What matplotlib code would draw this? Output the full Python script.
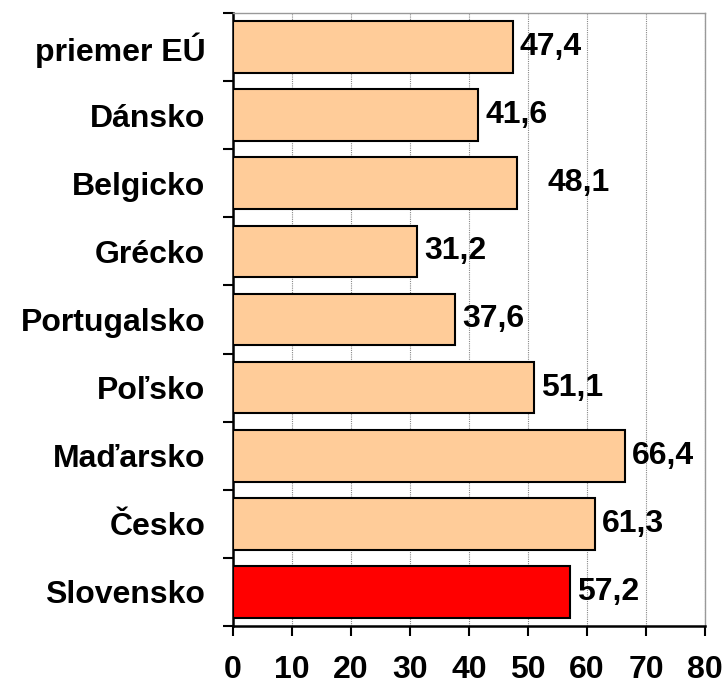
import matplotlib
matplotlib.use("Agg")
import matplotlib.pyplot as plt
import numpy as np

categories = ["priemer EÚ", "Dánsko", "Belgicko", "Grécko", "Portugalsko",
              "Poľsko", "Maďarsko", "Česko", "Slovensko"]
values = [47.4, 41.6, 48.1, 31.2, 37.6, 51.1, 66.4, 61.3, 57.2]
value_labels = ["47,4", "41,6", "48,1", "31,2", "37,6", "51,1", "66,4", "61,3", "57,2"]
x_ticks = [0, 10, 20, 30, 40, 50, 60, 70, 80]

plt.rcParams['font.family'] = ['Liberation Sans', 'DejaVu Sans']

fig = plt.figure(figsize=(7.24, 6.87), dpi=100)
ax = fig.add_axes([233/724, 1 - 626/687, 472/724, 613/687])

colors = ["#FFCC99"] * (len(categories) - 1) + ["#FF0000"]
y = np.arange(len(categories))
ax.barh(y, values, height=0.76, color=colors, edgecolor="black", linewidth=1.5, zorder=3)

ax.set_xlim(0, 80)
ax.set_ylim(len(categories) - 0.5, -0.5)

ax.set_xticks(x_ticks)
ax.set_xticklabels([str(t) for t in x_ticks], fontsize=23, fontweight="bold")
ax.set_yticks(y)
ax.set_yticklabels(categories, fontsize=23, fontweight="bold")
ax.set_yticks(np.arange(-0.5, len(categories), 1.0), minor=True)
ax.tick_params(axis="y", which="major", length=0, pad=20)
ax.tick_params(axis="y", which="minor", length=7, width=1.5, direction="out")
ax.tick_params(axis="x", which="major", length=7, width=1.5, direction="out", pad=14)

ax.grid(axis="x", color="#888888", linestyle=(0, (1, 1)), linewidth=0.8, zorder=0)
for s in ["top", "right"]:
    ax.spines[s].set_color("#999999")
    ax.spines[s].set_linewidth(1.0)
for s in ["left", "bottom"]:
    ax.spines[s].set_color("black")
    ax.spines[s].set_linewidth(1.8)

offsets = {2: 17}
for i, (v, lab) in enumerate(zip(values, value_labels)):
    ax.annotate(lab, xy=(v, i), xytext=(5 + offsets.get(i, 0), 0), textcoords="offset points",
                ha="left", va="center", fontsize=23, fontweight="bold", zorder=4)

fig.savefig("out.png", dpi=100)
